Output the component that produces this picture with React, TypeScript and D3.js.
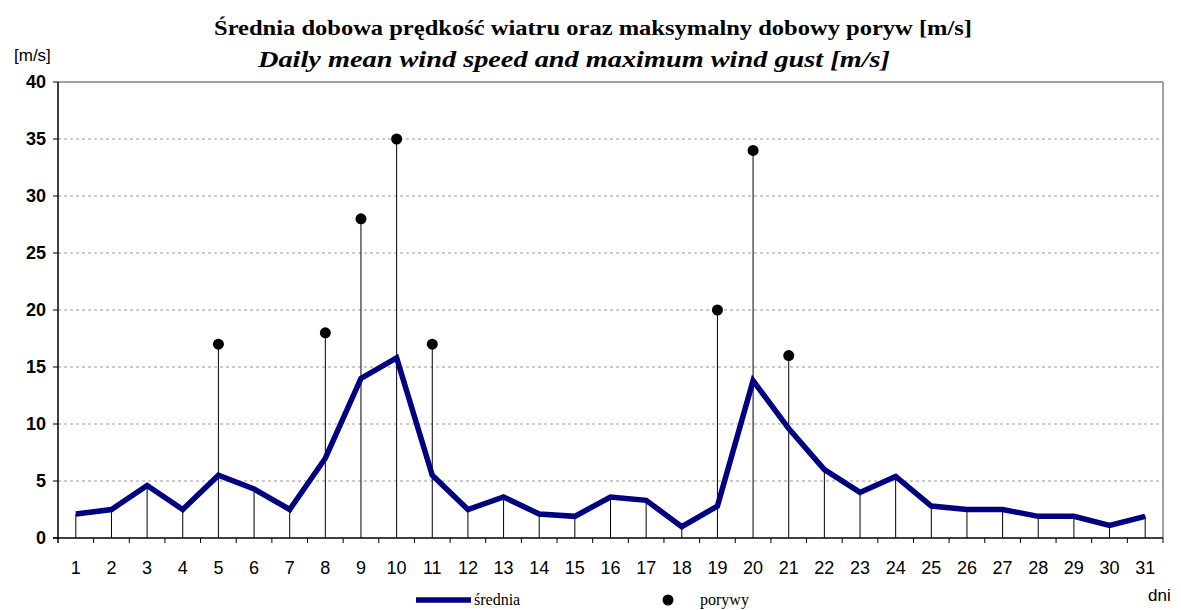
import * as d3 from 'd3';

// dzień miesiąca
const days = d3.range(1, 32);
// średnia dobowa prędkość wiatru [m/s]
const meanSpeed = [
  2.1, 2.5, 4.6, 2.5, 5.5, 4.3, 2.5, 7.0, 14.0, 15.8, 5.5, 2.5, 3.6, 2.1, 1.9,
  3.6, 3.3, 1.0, 2.8, 13.8, 9.6, 6.0, 4.0, 5.4, 2.8, 2.5, 2.5, 1.9, 1.9, 1.1, 1.9,
];
// maksymalny dobowy poryw [m/s] (null = brak)
const gusts: (number | null)[] = [
  null, null, null, null, 17, null, null, 18, 28, 35, 17, null, null, null, null,
  null, null, null, 20, 34, 16, null, null, null, null, null, null, null, null, null, null,
];
const yTicks = [0, 5, 10, 15, 20, 25, 30, 35, 40];

const width = 1181;
const height = 610;
const left = 58;
const right = 1163;
const top = 82;
const bottom = 538;

function App() {
  const x = d3
    .scaleBand<number>()
    .domain(days)
    .range([left, right]);
  const y = d3.scaleLinear().domain([0, 40]).range([bottom, top]);
  const cx = (d: number) => (x(d) as number) + x.bandwidth() / 2;

  const line = d3
    .line<number>()
    .x((_, i) => cx(days[i]))
    .y((v) => y(v));

  return (
    <svg
      width={width}
      height={height}
      style={{ position: 'absolute', left: 0, top: 0, background: '#fff' }}
    >
      {/* tytuł */}
      <text
        x={593}
        y={35}
        textAnchor="middle"
        fontFamily="Liberation Serif"
        fontWeight="bold"
        fontSize={22}
        textLength={758}
        lengthAdjust="spacingAndGlyphs"
      >
        Średnia dobowa prędkość wiatru oraz maksymalny dobowy poryw [m/s]
      </text>
      <text
        x={574}
        y={67}
        textAnchor="middle"
        fontFamily="Liberation Serif"
        fontWeight="bold"
        fontStyle="italic"
        fontSize={23}
        textLength={632}
        lengthAdjust="spacingAndGlyphs"
      >
        Daily mean wind speed and maximum wind gust [m/s]
      </text>

      {/* siatka */}
      {yTicks.slice(1, -1).map((t) => (
        <line
          key={t}
          x1={left}
          x2={right}
          y1={y(t)}
          y2={y(t)}
          stroke="#999"
          strokeDasharray="3,3"
        />
      ))}
      <line x1={left} x2={right} y1={top} y2={top} stroke="#808080" strokeWidth={1.5} />
      <line x1={right} x2={right} y1={top} y2={bottom} stroke="#808080" strokeWidth={1.5} />

      {/* linie opadające */}
      {days.map((d, i) => {
        const g = gusts[i];
        const v = g != null ? Math.max(g, meanSpeed[i]) : meanSpeed[i];
        return (
          <line
            key={d}
            x1={cx(d)}
            x2={cx(d)}
            y1={y(v)}
            y2={bottom}
            stroke="#000"
            strokeWidth={1}
          />
        );
      })}

      {/* średnia */}
      <path
        d={line(meanSpeed) as string}
        fill="none"
        stroke="#000080"
        strokeWidth={5.5}
        strokeLinejoin="miter"
      />

      {/* porywy */}
      {days.map((d, i) =>
        gusts[i] != null ? (
          <circle key={d} cx={cx(d)} cy={y(gusts[i] as number)} r={5.5} fill="#000" />
        ) : null
      )}

      {/* osie */}
      <line x1={left} x2={left} y1={top} y2={bottom + 5} stroke="#000" strokeWidth={1.5} />
      <line x1={left - 5} x2={right} y1={bottom} y2={bottom} stroke="#000" strokeWidth={1.5} />
      {yTicks.map((t) => (
        <g key={t}>
          <line x1={left - 5} x2={left} y1={y(t)} y2={y(t)} stroke="#000" />
          <text
            x={left - 12}
            y={y(t) + 6}
            textAnchor="end"
            fontFamily="Liberation Sans"
            fontWeight="bold"
            fontSize={18}
          >
            {t}
          </text>
        </g>
      ))}
      {days.map((d) => (
        <g key={d}>
          <line
            x1={(x(d) as number) + x.bandwidth()}
            x2={(x(d) as number) + x.bandwidth()}
            y1={bottom}
            y2={bottom + 5}
            stroke="#000"
          />
          <text
            x={cx(d)}
            y={574}
            textAnchor="middle"
            fontFamily="Liberation Sans"
            fontSize={18}
          >
            {d}
          </text>
        </g>
      ))}
      <text x={14} y={61} fontFamily="Liberation Sans" fontSize={17}>
        [m/s]
      </text>
      <text x={1148} y={601} fontFamily="Liberation Sans" fontSize={17}>
        dni
      </text>

      {/* legenda */}
      <line x1={416} x2={471} y1={600} y2={600} stroke="#000080" strokeWidth={5.5} />
      <text x={474} y={605} fontFamily="Liberation Serif" fontSize={16}>
        średnia
      </text>
      <circle cx={668} cy={600} r={5.5} fill="#000" />
      <text x={700} y={605} fontFamily="Liberation Serif" fontSize={16}>
        porywy
      </text>
    </svg>
  );
}

export default App;
